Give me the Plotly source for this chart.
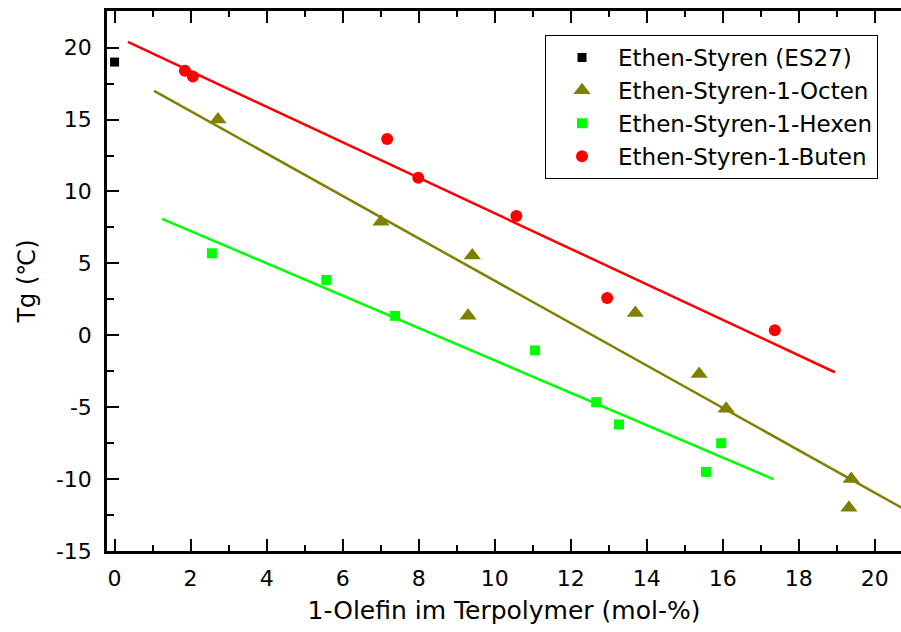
import plotly.graph_objects as go

# ---- data ----
es_x = [0.0]
es_y = [19.0]

octen_x = [2.72, 7.01, 9.41, 9.30, 13.70, 15.38, 16.09, 19.38, 19.32]
octen_y = [15.0, 7.9, 5.55, 1.35, 1.55, -2.7, -5.1, -10.0, -12.0]

hexen_x = [2.56, 5.57, 7.38, 11.06, 12.67, 13.27, 15.96, 15.56]
hexen_y = [5.7, 3.85, 1.35, -1.05, -4.65, -6.2, -7.5, -9.5]

buten_x = [1.85, 2.06, 7.17, 7.99, 10.57, 12.96, 17.37]
buten_y = [18.4, 18.0, 13.65, 10.95, 8.3, 2.6, 0.35]

# fitted lines (end points)
fit_buten_x = [0.35, 18.95]
fit_buten_y = [20.4, -2.57]
fit_octen_x = [1.04, 20.75]
fit_octen_y = [17.0, -12.05]
fit_hexen_x = [1.25, 17.33]
fit_hexen_y = [8.1, -10.0]

x_ticks = [0, 2, 4, 6, 8, 10, 12, 14, 16, 18, 20]
y_ticks = [-15, -10, -5, 0, 5, 10, 15, 20]

RED = "#FF0000"
OLIVE = "#808000"
GREEN = "#00FF00"
FONT = "DejaVu Sans, Arial, sans-serif"

fig = go.Figure()

# fit lines (no legend)
fig.add_trace(go.Scatter(x=fit_buten_x, y=fit_buten_y, mode="lines",
                         line=dict(color=RED, width=2.5), showlegend=False, hoverinfo="skip"))
fig.add_trace(go.Scatter(x=fit_octen_x, y=fit_octen_y, mode="lines",
                         line=dict(color=OLIVE, width=2.5), showlegend=False, hoverinfo="skip"))
fig.add_trace(go.Scatter(x=fit_hexen_x, y=fit_hexen_y, mode="lines",
                         line=dict(color=GREEN, width=2.5), showlegend=False, hoverinfo="skip"))

# markers
fig.add_trace(go.Scatter(x=es_x, y=es_y, mode="markers", name="Ethen-Styren (ES27)",
                         marker=dict(symbol="square", size=9, color="black"), cliponaxis=False))
fig.add_trace(go.Scatter(x=octen_x, y=octen_y, mode="markers", name="Ethen-Styren-1-Octen",
                         marker=dict(symbol="triangle-up", size=15, color=OLIVE)))
fig.add_trace(go.Scatter(x=hexen_x, y=hexen_y, mode="markers", name="Ethen-Styren-1-Hexen",
                         marker=dict(symbol="square", size=10, color=GREEN)))
fig.add_trace(go.Scatter(x=buten_x, y=buten_y, mode="markers", name="Ethen-Styren-1-Buten",
                         marker=dict(symbol="circle", size=12, color=RED)))

fig.update_layout(
    width=901, height=632,
    margin=dict(l=107, r=0, t=11, b=81),
    paper_bgcolor="white", plot_bgcolor="white",
    font=dict(family=FONT, color="black"),
    showlegend=True,
    legend=dict(
        x=(545 - 107) / 794, y=(551 - 35) / 540, xanchor="left", yanchor="top",
        bgcolor="white", bordercolor="black", borderwidth=1,
        font=dict(size=23, family=FONT),
        itemwidth=62,
    ),
    xaxis=dict(
        range=[-0.2, 20.69], tickvals=x_ticks, ticktext=[str(v) for v in x_ticks],
        showgrid=False, zeroline=False, automargin=False,
        showline=True, linecolor="black", linewidth=2.5, mirror="ticks",
        ticks="inside", ticklen=12, tickwidth=2, tickcolor="black",
        minor=dict(dtick=1, tick0=0, ticks="inside", ticklen=6, tickwidth=2, tickcolor="black"),
        tickfont=dict(size=22, family=FONT),
        ticklabelstandoff=6,
        title=dict(text="1-Olefin im Terpolymer (mol-%)", font=dict(size=25, family=FONT), standoff=12),
    ),
    yaxis=dict(
        range=[-15, 22.55], tickvals=y_ticks, ticktext=[str(v) for v in y_ticks],
        showgrid=False, zeroline=False, automargin=False,
        showline=True, linecolor="black", linewidth=2.5,
        ticks="inside", ticklen=12, tickwidth=2, tickcolor="black",
        minor=dict(dtick=2.5, tick0=0, ticks="inside", ticklen=7, tickwidth=2, tickcolor="black"),
        tickfont=dict(size=22, family=FONT),
        ticklabelstandoff=8,
        title=dict(text="Tg (℃)", font=dict(size=24, family=FONT), standoff=14),
    ),
)

fig.write_html("out.html",
               config={"displayModeBar": False},
               post_script="document.body.style.margin='0';document.body.style.padding='0';")
